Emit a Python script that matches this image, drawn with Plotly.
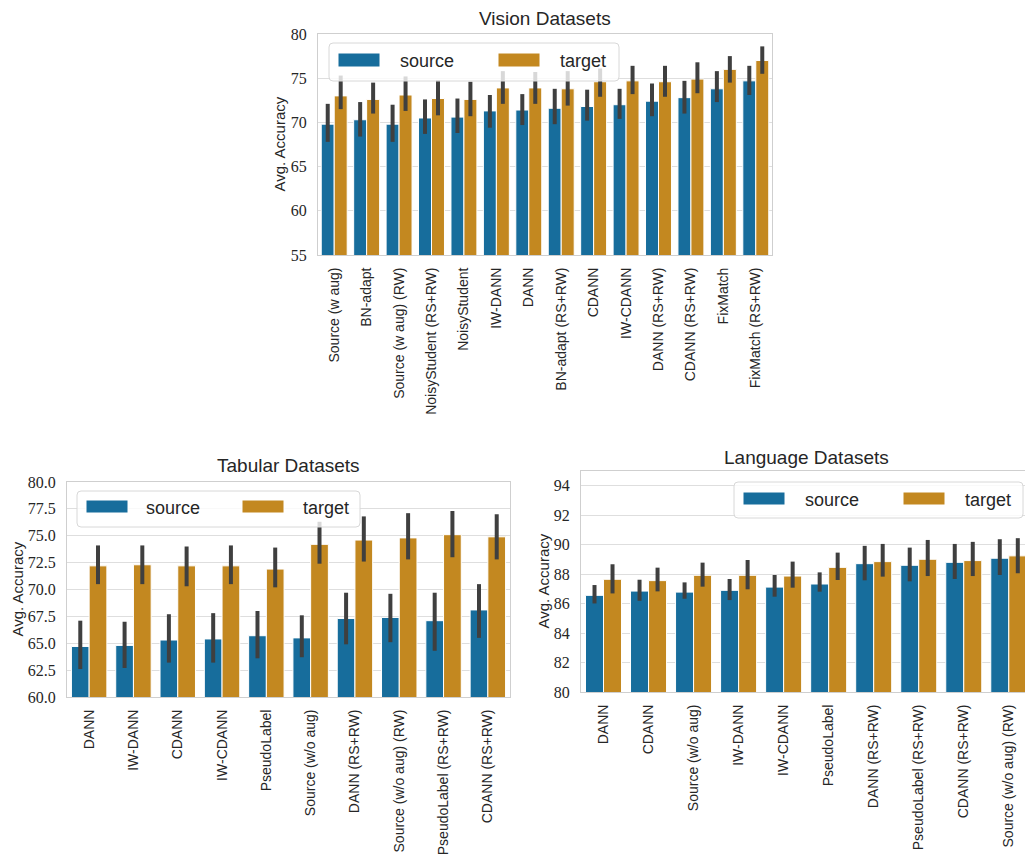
import plotly.graph_objects as go

# ---------------- data ----------------
vision_methods = ["Source (w aug)", "BN-adapt", "Source (w aug) (RW)", "NoisyStudent (RS+RW)",
                  "NoisyStudent", "IW-DANN", "DANN", "BN-adapt (RS+RW)", "CDANN", "IW-CDANN",
                  "DANN (RS+RW)", "CDANN (RS+RW)", "FixMatch", "FixMatch (RS+RW)"]
vision_source = [69.8, 70.3, 69.8, 70.5, 70.6, 71.3, 71.4, 71.6, 71.8, 72.0, 72.4, 72.8, 73.8, 74.7]
vision_source_hi = [72.1, 72.3, 72.0, 72.6, 72.7, 73.1, 73.2, 73.8, 73.7, 73.8, 74.4, 74.7, 75.8, 76.4]
vision_source_lo = [67.8, 68.4, 67.8, 68.7, 68.8, 69.4, 69.7, 69.8, 70.2, 70.4, 70.7, 71.0, 72.3, 73.1]
vision_target = [73.0, 72.6, 73.1, 72.7, 72.6, 73.9, 73.9, 73.8, 74.6, 74.7, 74.6, 74.9, 76.0, 77.0]
vision_target_hi = [75.3, 74.5, 75.2, 74.8, 74.6, 75.8, 75.7, 75.8, 76.1, 76.4, 76.4, 76.8, 77.5, 78.6]
vision_target_lo = [71.5, 71.0, 71.3, 70.8, 70.7, 72.1, 72.1, 71.9, 72.9, 73.2, 72.9, 73.3, 74.5, 75.5]

tabular_methods = ["DANN", "IW-DANN", "CDANN", "IW-CDANN", "PseudoLabel", "Source (w/o aug)",
                   "DANN (RS+RW)", "Source (w/o aug) (RW)", "PseudoLabel (RS+RW)", "CDANN (RS+RW)"]
tabular_source = [64.7, 64.8, 65.3, 65.4, 65.7, 65.5, 67.3, 67.4, 67.1, 68.1]
tabular_source_hi = [67.1, 67.0, 67.7, 67.8, 68.0, 67.6, 69.7, 69.6, 69.7, 70.5]
tabular_source_lo = [62.6, 62.7, 63.2, 63.2, 63.6, 63.7, 64.9, 65.1, 64.3, 65.5]
tabular_target = [72.2, 72.3, 72.2, 72.2, 71.9, 74.2, 74.6, 74.8, 75.1, 74.9]
tabular_target_hi = [74.1, 74.1, 74.0, 74.1, 73.9, 76.3, 76.8, 77.1, 77.3, 77.0]
tabular_target_lo = [70.5, 70.5, 70.3, 70.5, 70.2, 72.4, 72.6, 72.8, 73.0, 72.8]

language_methods = ["DANN", "CDANN", "Source (w/o aug)", "IW-DANN", "IW-CDANN", "PseudoLabel",
                    "DANN (RS+RW)", "PseudoLabel (RS+RW)", "CDANN (RS+RW)", "Source (w/o aug) (RW)"]
language_source = [86.56, 86.85, 86.78, 86.90, 87.12, 87.33, 88.71, 88.60, 88.80, 89.08]
language_source_hi = [87.26, 87.62, 87.44, 87.67, 87.94, 88.12, 89.92, 89.80, 90.05, 90.37]
language_source_lo = [86.01, 86.19, 86.33, 86.24, 86.47, 86.81, 87.58, 87.51, 87.67, 87.94]
language_target = [87.65, 87.56, 87.92, 87.92, 87.87, 88.46, 88.85, 89.01, 88.92, 89.24]
language_target_hi = [88.67, 88.44, 88.78, 88.96, 88.85, 89.46, 90.05, 90.32, 90.19, 90.44]
language_target_lo = [86.69, 86.83, 87.15, 86.97, 87.08, 87.60, 87.83, 87.87, 87.87, 88.06]

# ---------------- style ----------------
W, H = 1025, 861
BLUE = "#176d9c"
ORANGE = "#c38820"
ERR = "#3f3f3f"
GRID = "#dedede"
SPINE = "#cfcfcf"
TEXT = "#262626"
SANS = "Liberation Sans, Arial, sans-serif"
SERIF = "Liberation Serif, Times New Roman, serif"


def px_x(x):
    return x / W


def px_y(y):
    return 1 - y / H


fig = go.Figure()

panels = [
    dict(ax="", methods=vision_methods,
         s=(vision_source, vision_source_hi, vision_source_lo),
         t=(vision_target, vision_target_hi, vision_target_lo),
         dom_x=(318, 772), dom_y=(34, 255), yrange=(55, 80), dtick=5, fmt="d",
         xrange=(-0.5, len(vision_methods) - 0.5), right=True,
         title="Vision Datasets", title_y=18, ylab_x=279),
    dict(ax="2", methods=tabular_methods,
         s=(tabular_source, tabular_source_hi, tabular_source_lo),
         t=(tabular_target, tabular_target_hi, tabular_target_lo),
         dom_x=(67, 510), dom_y=(482, 697), yrange=(60, 80), dtick=2.5, fmt=".1f",
         xrange=(-0.5, len(tabular_methods) - 0.5), right=True,
         title="Tabular Datasets", title_y=465, ylab_x=17),
    dict(ax="3", methods=language_methods,
         s=(language_source, language_source_hi, language_source_lo),
         t=(language_target, language_target_hi, language_target_lo),
         dom_x=(581, 1025), dom_y=(471, 692), yrange=(80, 95), dtick=2, fmt="d",
         xrange=(-0.5, 9.36), right=False,
         title="Language Datasets", title_y=457, ylab_x=543),
]

annotations = []
shapes = []

for p in panels:
    xa = "x" + p["ax"]
    ya = "y" + p["ax"]
    idx = list(range(len(p["methods"])))
    for name, (vals, hi, lo), col in (("source", p["s"], BLUE), ("target", p["t"], ORANGE)):
        fig.add_trace(go.Bar(
            x=idx, y=vals, name=name, xaxis=xa, yaxis=ya, offsetgroup=name,
            marker=dict(color=col, line=dict(color="white", width=1)),
            error_y=dict(type="data", symmetric=False,
                         array=[h - v for h, v in zip(hi, vals)],
                         arrayminus=[v - l for v, l in zip(vals, lo)],
                         color=ERR, thickness=4, width=0),
            showlegend=False,
        ))
    dx0, dx1 = p["dom_x"]
    dy0, dy1 = p["dom_y"]
    fig.layout["xaxis" + p["ax"]] = dict(
        domain=[px_x(dx0), px_x(dx1)], anchor=ya, range=list(p["xrange"]),
        tickvals=idx, ticktext=p["methods"], tickangle=-90,
        tickfont=dict(family=SANS, size=14, color=TEXT),
        showgrid=False, zeroline=False, showline=True, linecolor=SPINE, linewidth=1,
        mirror=True, ticks="outside", ticklen=6, tickcolor="rgba(0,0,0,0)",
        automargin=False, fixedrange=True,
    )
    fig.layout["yaxis" + p["ax"]] = dict(
        domain=[px_y(dy1), px_y(dy0)], anchor=xa, range=list(p["yrange"]),
        dtick=p["dtick"], tick0=p["yrange"][0], tickformat=p["fmt"],
        tickfont=dict(family=SERIF, size=16, color=TEXT),
        showgrid=True, gridcolor=GRID, gridwidth=1, zeroline=False,
        showline=True, linecolor=SPINE, linewidth=1, mirror=p["right"],
        ticks="outside", ticklen=7, tickcolor="rgba(0,0,0,0)",
        automargin=False, fixedrange=True,
    )
    full_right = dx0 + (dx1 - dx0) * (len(p["methods"])) / (p["xrange"][1] - p["xrange"][0])
    annotations.append(dict(
        text=p["title"], xref="paper", yref="paper",
        x=px_x((dx0 + full_right) / 2), y=px_y(p["title_y"]),
        xanchor="center", yanchor="middle", showarrow=False,
        font=dict(family=SANS, size=19, color=TEXT),
    ))
    annotations.append(dict(
        text="Avg. Accuracy", xref="paper", yref="paper",
        x=px_x(p["ylab_x"]), y=px_y((dy0 + dy1) / 2), textangle=-90,
        xanchor="center", yanchor="middle", showarrow=False,
        font=dict(family=SANS, size=15, color=TEXT),
    ))

# legend boxes per panel, in pixels:
# (box left, top, right, bottom, source patch x, target patch x, patch top, bottom, source text x, target text x)
legend_boxes = [
    (329, 43, 619, 81, 338, 498, 53, 67, 398, 558),
    (77, 491, 360, 527, 86, 242, 500, 513, 144, 301),
    (734, 482, 1023, 518, 743, 903, 492, 505, 803, 963),
]


def rounded_rect(left, top, right, bottom, r=4):
    # pixel corners -> paper path with rounded corners
    x0, x1 = px_x(left), px_x(right)
    yt, yb = px_y(top), px_y(bottom)
    rx, ry = r / W, r / H
    return (f"M {x0 + rx},{yt} L {x1 - rx},{yt} Q {x1},{yt} {x1},{yt - ry} "
            f"L {x1},{yb + ry} Q {x1},{yb} {x1 - rx},{yb} L {x0 + rx},{yb} "
            f"Q {x0},{yb} {x0},{yb + ry} L {x0},{yt - ry} Q {x0},{yt} {x0 + rx},{yt} Z")


for bx0, by0, bx1, by1, sx, tx, py0, py1, stx, ttx in legend_boxes:
    shapes.append(dict(type="path", xref="paper", yref="paper",
                       path=rounded_rect(bx0, by0, bx1, by1, r=4),
                       fillcolor="rgba(255,255,255,0.8)", line=dict(color="#d8d8d8", width=1)))
    for px0, col in ((sx, BLUE), (tx, ORANGE)):
        shapes.append(dict(type="rect", xref="paper", yref="paper",
                           x0=px_x(px0), x1=px_x(px0 + 42), y0=px_y(py1), y1=px_y(py0),
                           fillcolor=col, line=dict(color="white", width=1)))
    for txx, label in ((stx, "source"), (ttx, "target")):
        annotations.append(dict(text=label, xref="paper", yref="paper",
                                x=px_x(txx), y=px_y((py0 + py1) / 2 + 1),
                                xanchor="left", yanchor="middle", showarrow=False,
                                font=dict(family=SANS, size=18, color=TEXT)))

fig.update_layout(
    width=W, height=H, margin=dict(l=0, r=0, t=0, b=0),
    paper_bgcolor="white", plot_bgcolor="white",
    barmode="group", bargap=0.2, bargroupgap=0,
    showlegend=False, annotations=annotations, shapes=shapes,
)

fig.write_html("out.html")
